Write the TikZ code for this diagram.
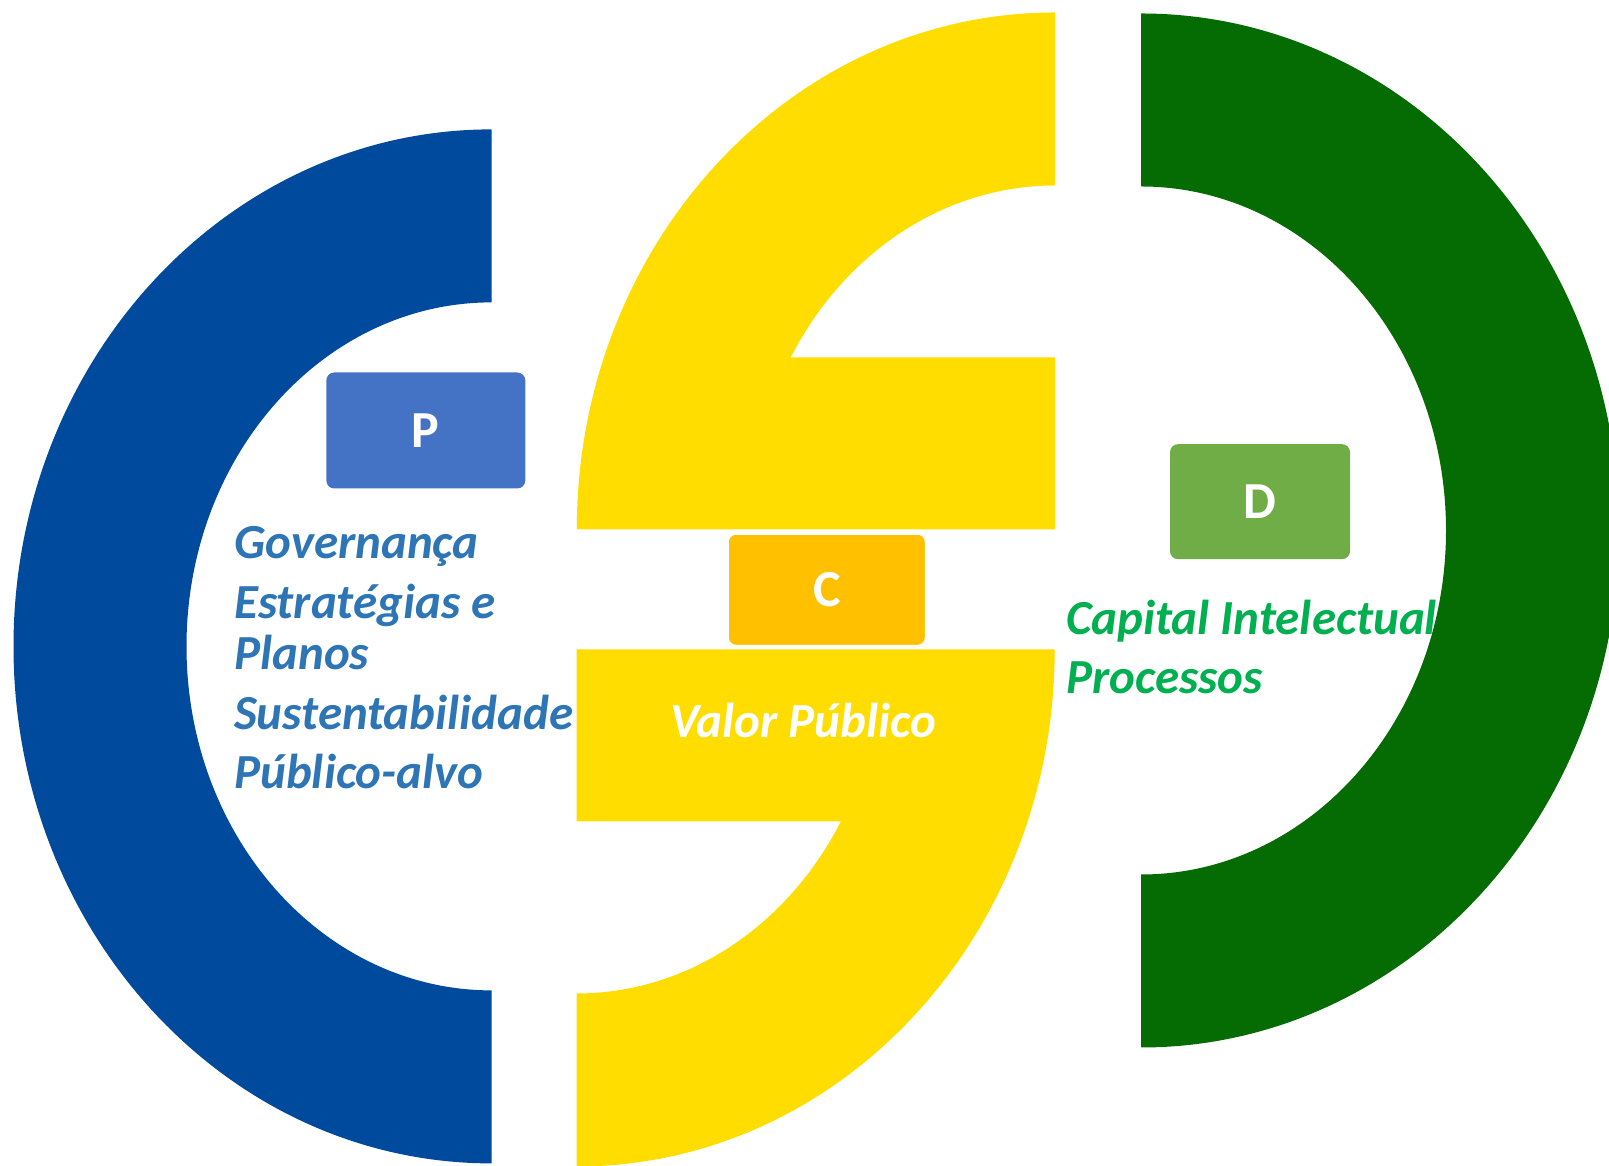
\documentclass[tikz,border=0pt]{standalone}
\usepackage{fontspec}
\setmainfont{Carlito}
\definecolor{ringblue}{HTML}{004A9E}
\definecolor{ringyellow}{HTML}{FFDD00}
\definecolor{ringgreen}{HTML}{056B03}
\definecolor{pboxc}{HTML}{4472C4}
\definecolor{cboxc}{HTML}{FFC000}
\definecolor{dboxc}{HTML}{70AD47}
\definecolor{textblue}{HTML}{2E75B6}
\definecolor{textgreen}{HTML}{00B050}
\begin{document}
\begin{tikzpicture}[x=1pt,y=1pt,
  letterbox/.style={rounded corners=8pt, inner sep=0pt, text=white,
    font=\fontsize{52}{56}\selectfont\bfseries},
  label/.style={anchor=base west, inner sep=0pt,
    font=\fontsize{49}{53}\selectfont\bfseries\itshape}]
\useasboundingbox (0,0) rectangle (1609,1166);
\clip (0,0) rectangle (1609,1166);
\fill[white] (0,0) rectangle (1609,1166);
% blue C
\fill[ringblue] (491.5,1036.6)
  arc[start angle=90, end angle=270, x radius=478, y radius=517]
  -- (491.5,175.6)
  arc[start angle=270, end angle=90, x radius=305, y radius=344]
  -- cycle;
% upper yellow
\fill[ringyellow] (1054.8,1153.5)
  arc[start angle=90, end angle=180, x radius=478, y radius=517]
  -- (1054.8,636.5) -- (1054.8,808.5) -- (790.7,808.5)
  arc[start angle=150, end angle=90, x radius=305, y radius=344]
  -- cycle;
% lower yellow
\fill[ringyellow] (576.7,516.5) -- (1054.7,516.5)
  arc[start angle=0, end angle=-90, x radius=478, y radius=517]
  -- (576.7,172.5)
  arc[start angle=-90, end angle=-30, x radius=305, y radius=344]
  -- (576.7,344.5) -- cycle;
% green D
\fill[ringgreen] (1141,1152.5)
  arc[start angle=90, end angle=-90, x radius=478, y radius=517]
  -- (1141,291.5)
  arc[start angle=-90, end angle=90, x radius=305, y radius=344]
  -- cycle;
% letter boxes
\node[letterbox, fill=pboxc, minimum width=199pt, minimum height=116pt] (P) at (425.8,735.5) {P};
\node[letterbox, fill=cboxc, draw=white, line width=2pt, minimum width=198pt, minimum height=112pt] (C) at (826.8,576.2) {C};
\node[letterbox, fill=dboxc, minimum width=180pt, minimum height=115pt] (D) at (1260,664.3) {D};
% texts
\node[label, text=textblue] (t1) at (234,607) {Governança};
\node[label, text=textblue] (t2) at (234,547) {Estratégias e};
\node[label, text=textblue] (t3) at (234,496) {Planos};
\node[label, text=textblue] (t4) at (234,436) {Sustentabilidade};
\node[label, text=textblue] (t5) at (234,377) {Público-alvo};
\node[label, text=white] (t6) at (670,428) {Valor Público};
\node[label, text=textgreen] (t7) at (1066,531.5) {Capital Intelectual};
\node[label, text=textgreen] (t8) at (1066,472.5) {Processos};
\end{tikzpicture}
\end{document}
